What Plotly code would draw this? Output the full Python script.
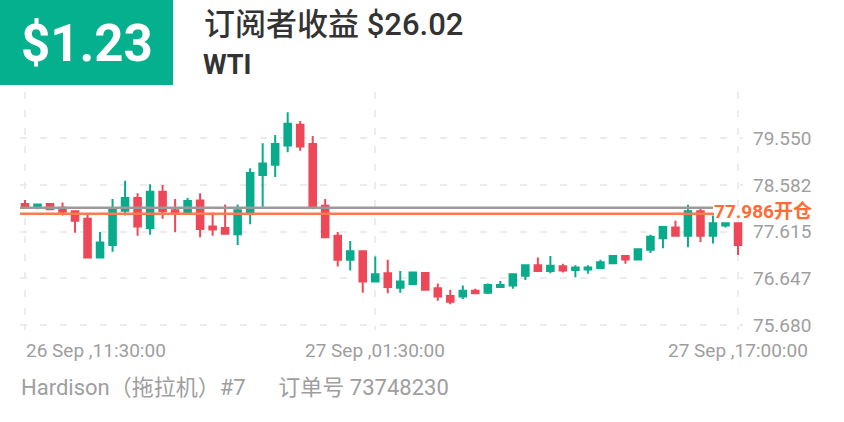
import plotly.graph_objects as go

# ---- data ----
opens  = [78.19, 78.13, 78.19, 78.11, 78.04, 77.88, 77.08, 77.34, 78.05, 78.31,
          77.69, 78.44, 78.06, 78.01, 78.26, 77.72, 77.69, 77.56, 78.01, 78.79,
          79.00, 79.40, 79.83, 79.43, 78.15, 77.53, 77.03, 77.21, 76.58, 76.75,
          76.45, 76.53, 76.76, 76.44, 76.28, 76.27, 76.39, 76.35, 76.47, 76.50,
          76.70, 76.92, 76.80, 76.90, 76.82, 76.83, 76.86, 76.96, 77.11, 77.04,
          77.24, 77.48, 77.70, 77.53, 78.04, 77.53, 77.74, 77.79]
highs  = [78.27, 78.20, 78.21, 78.22, 78.05, 77.96, 77.61, 78.29, 78.67, 78.41,
          78.60, 78.58, 78.29, 78.31, 78.41, 78.01, 78.18, 78.18, 78.93, 79.45,
          79.62, 80.09, 79.91, 79.60, 78.29, 77.61, 77.42, 77.22, 77.10, 77.03,
          76.80, 76.78, 76.77, 76.54, 76.41, 76.50, 76.43, 76.54, 76.59, 76.74,
          76.93, 77.08, 77.11, 76.95, 76.92, 76.92, 77.03, 77.13, 77.12, 77.26,
          77.55, 77.73, 77.84, 78.17, 78.09, 77.95, 77.81, 77.80]
lows   = [78.12, 78.08, 78.08, 77.95, 77.59, 77.06, 77.08, 77.20, 77.95, 77.53,
          77.55, 77.88, 77.60, 78.00, 77.50, 77.53, 77.57, 77.34, 77.77, 78.13,
          78.75, 79.26, 79.29, 78.08, 77.50, 76.89, 76.81, 76.35, 76.57, 76.34,
          76.35, 76.52, 76.39, 76.18, 76.11, 76.22, 76.34, 76.32, 76.46, 76.43,
          76.61, 76.79, 76.75, 76.77, 76.67, 76.74, 76.85, 76.95, 76.95, 77.03,
          77.17, 77.27, 77.52, 77.29, 77.40, 77.37, 77.70, 77.13]
closes = [78.12, 78.18, 78.08, 78.03, 77.84, 77.08, 77.39, 78.10, 78.31, 77.72,
          78.44, 78.04, 78.02, 78.25, 77.67, 77.66, 77.57, 78.06, 78.83, 79.03,
          79.43, 79.85, 79.38, 78.12, 77.50, 77.03, 77.21, 76.58, 76.73, 76.47,
          76.58, 76.77, 76.41, 76.27, 76.16, 76.39, 76.34, 76.51, 76.51, 76.73,
          76.92, 76.80, 76.91, 76.81, 76.87, 76.87, 76.98, 77.11, 77.04, 77.25,
          77.51, 77.71, 77.53, 78.04, 77.53, 77.79, 77.79, 77.34]

x_tick_pos = [0, 28, 57]
x_tick_labels = ["26 Sep ,11:30:00", "27 Sep ,01:30:00", "27 Sep ,17:00:00"]
y_tick_vals = [75.680, 76.647, 77.615, 78.582, 79.550]
y_tick_labels = ["75.680", "76.647", "77.615", "78.582", "79.550"]

open_price = 77.986
current_price = 78.112

badge_text = "$1.23"
title_text = "订阅者收益 $26.02"
symbol_text = "WTI"
footer_text = "Hardison（拖拉机）#7&nbsp;&nbsp;&nbsp;&nbsp;&nbsp;&nbsp;订单号 73748230"

# ---- layout geometry ----
W, H = 844, 422
L, R, T, B = 20, 743, 92, 330


def px(x):
    return (x - L) / (R - L)


def py(y):
    return (B - y) / (B - T)


GREEN = "#08ab8b"
RED = "#ee4858"
FONT = "Roboto, Noto Sans CJK SC, sans-serif"

idx = list(range(len(opens)))

fig = go.Figure()
fig.add_trace(go.Candlestick(
    x=idx, open=opens, high=highs, low=lows, close=closes,
    increasing=dict(line=dict(color=GREEN, width=2), fillcolor=GREEN),
    decreasing=dict(line=dict(color=RED, width=2), fillcolor=RED),
    whiskerwidth=0, showlegend=False, hoverinfo="skip",
))

shapes = []
# badge
shapes.append(dict(type="rect", xref="paper", yref="paper",
                   x0=px(0), x1=px(173), y0=py(85), y1=py(0),
                   fillcolor="#05b08f", line=dict(width=0), layer="above"))
# price lines
shapes.append(dict(type="line", xref="paper", yref="y",
                   x0=0, x1=px(713), y0=current_price, y1=current_price,
                   line=dict(color="#9a9a9a", width=2.5), layer="above"))
shapes.append(dict(type="line", xref="paper", yref="y",
                   x0=0, x1=px(714), y0=open_price, y1=open_price,
                   line=dict(color="#ff7b4a", width=2.5), layer="above"))

annotations = []
annotations.append(dict(xref="paper", yref="paper", x=px(87), y=py(43),
                        text=f"<b>{badge_text}</b>", showarrow=False,
                        xanchor="center", yanchor="middle",
                        font=dict(family=FONT, size=51, color="white")))
annotations.append(dict(xref="paper", yref="paper", x=px(202), y=py(25),
                        text=title_text, showarrow=False,
                        xanchor="left", yanchor="middle",
                        font=dict(family=FONT, size=31, color="#333333", weight=500)))
annotations.append(dict(xref="paper", yref="paper", x=px(201), y=py(65),
                        text=f"<b>{symbol_text}</b>", showarrow=False,
                        xanchor="left", yanchor="middle",
                        font=dict(family=FONT, size=27, color="#333333")))
annotations.append(dict(xref="paper", yref="paper", x=px(19), y=py(387),
                        text=footer_text, showarrow=False,
                        xanchor="left", yanchor="middle",
                        font=dict(family=FONT, size=22, color="#9e9e9e")))
# x labels
for i, (pos, lab) in enumerate(zip(x_tick_pos, x_tick_labels)):
    annotations.append(dict(xref="x", yref="paper", x=pos, y=py(350),
                            text=lab, showarrow=False,
                            xanchor="left" if i == 0 else "center",
                            xshift=-1 if i == 0 else 0,
                            yanchor="middle",
                            font=dict(family=FONT, size=19, color="#9e9e9e")))
# open price label
annotations.append(dict(xref="paper", yref="y", x=px(713), y=open_price,
                        yshift=2, text="<b>77.986开仓</b>", showarrow=False,
                        xanchor="left", yanchor="middle",
                        borderpad=0,
                        font=dict(family=FONT, size=19, color="#ff6b35")))

fig.update_layout(
    width=W, height=H,
    margin=dict(l=L, r=W - R, t=T, b=H - B),
    paper_bgcolor="white", plot_bgcolor="white",
    shapes=shapes, annotations=annotations,
    showlegend=False, boxgap=0.25,
    font=dict(family=FONT),
)
fig.update_xaxes(
    range=[-0.4, 57.4], rangeslider=dict(visible=False),
    tickvals=x_tick_pos, showticklabels=False,
    showgrid=True, gridcolor="#ececec", gridwidth=2, griddash="7px,11px",
    zeroline=False, showline=False, ticks="",
)
fig.update_yaxes(
    range=[75.576, 80.510], side="right",
    tickvals=y_tick_vals, ticktext=y_tick_labels,
    tickfont=dict(family=FONT, size=19, color="#9e9e9e"),
    ticklabelstandoff=9,
    showgrid=True, gridcolor="#ececec", gridwidth=2, griddash="7px,13px",
    zeroline=False, showline=False, ticks="",
)

fig.write_html(
    "out.html",
    config={"displayModeBar": False},
    post_script="document.body.style.margin='0';document.body.style.overflow='hidden';",
)
